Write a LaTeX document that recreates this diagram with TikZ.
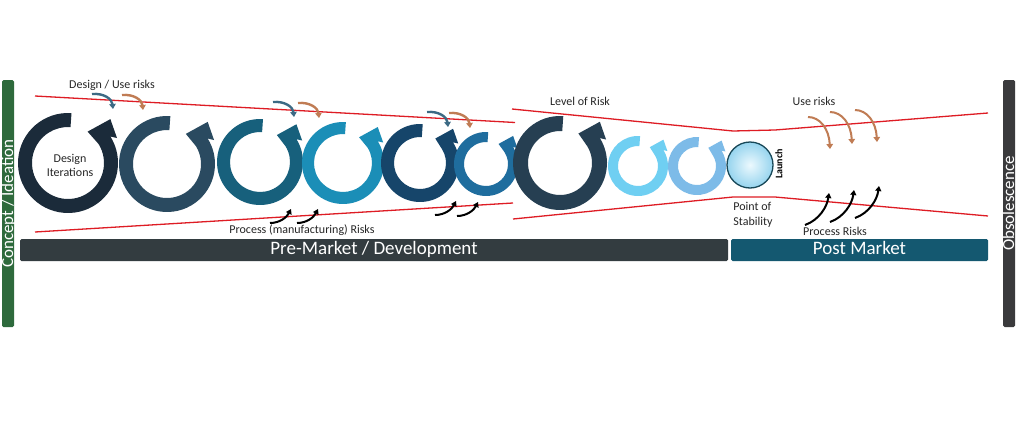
\documentclass[tikz,border=0pt]{standalone}
\usepackage{fontspec}
\setmainfont{Carlito}
\usetikzlibrary{arrows.meta,positioning}

\definecolor{ideagreen}{RGB}{46,106,60}
\definecolor{obsgrey}{RGB}{58,58,60}
\definecolor{premarket}{RGB}{51,60,64}
\definecolor{postmarket}{RGB}{20,88,112}
\definecolor{riskred}{RGB}{222,28,36}
\definecolor{designblue}{RGB}{60,106,132}
\definecolor{useorange}{RGB}{192,124,84}
\definecolor{lblgrey}{RGB}{38,38,38}
\definecolor{ringA}{RGB}{27,43,58}
\definecolor{ringB}{RGB}{42,74,96}
\definecolor{ringC}{RGB}{23,96,124}
\definecolor{ringD}{RGB}{27,142,183}
\definecolor{ringE}{RGB}{22,69,106}
\definecolor{ringF}{RGB}{31,109,158}
\definecolor{ringG}{RGB}{38,63,82}
\definecolor{ringH}{RGB}{111,207,242}
\definecolor{ringI}{RGB}{125,187,232}
\definecolor{launchin}{RGB}{236,249,254}
\definecolor{launchout}{RGB}{150,212,238}
\definecolor{launchedge}{RGB}{24,72,88}

% x, y, outer radius, thickness, colour
\newcommand{\iterring}[5]{%
  \begin{scope}[shift={(#1,-#2)}]
    \pgfmathsetmacro\ringin{#3-#4}
    \pgfmathsetmacro\ringbarb{0.74*#3}
    \pgfmathsetmacro\ringflare{1.1*#3}
    \pgfmathsetmacro\ringtip{1.22*#3}
    \fill[#5] (86:#3pt) arc[start angle=86,end angle=392,radius=#3pt]
      -- (387:\ringflare pt) -- (406:\ringtip pt) -- (418:\ringbarb pt) -- (392:\ringin pt)
      arc[start angle=392,end angle=86,radius=\ringin pt] -- cycle;
  \end{scope}}

\tikzset{
  risklbl/.style={font=\fontsize{12}{14.5}\selectfont, text=lblgrey},
  barlbl/.style={font=\fontsize{19}{21}\selectfont, text=white, inner sep=0pt,
    rounded corners=1.5pt, minimum height=22pt, text height=13pt, text depth=4pt},
  sidelbl/.style={font=\fontsize{17}{19}\selectfont, text=white, rotate=90, inner sep=0pt,
    rounded corners=1.5pt, minimum width=247pt, text height=11pt, text depth=1pt},
  riskline/.style={draw=riskred, line width=1.3pt},
  designrisk/.style={line width=2.4pt, -{Triangle[length=5pt,width=6.5pt]}},
  procrisk/.style={line width=2pt, black, -{Triangle[length=5pt,width=6pt]}}
}

\begin{document}
\begin{tikzpicture}[x=1pt,y=1pt]
\fill[white] (0,0) rectangle (1024,-434);

\node[sidelbl, fill=ideagreen] (concept) at (8,-203.5) {Concept / Ideation};
\node[sidelbl, fill=obsgrey] (obsol) at (1009,-203.5) {Obsolescence};
\node[barlbl, fill=premarket, minimum width=708pt] (premkt) at (374,-250) {Pre-Market / Development};
\node[barlbl, fill=postmarket, minimum width=257pt] (postmkt) at (859.5,-250) {Post Market};

\draw[riskline] (35,-96) -- (515,-122.5);
\draw[riskline] (35,-232) -- (513,-203);
\draw[riskline] (512,-109) -- (733,-131) -- (775,-130) -- (988,-113);
\draw[riskline] (513,-219) -- (733,-197) -- (775,-197) -- (988,-216);

\iterring{68}{163}{50}{14}{ringA}
\iterring{167}{164}{48}{14}{ringB}
\iterring{260}{162}{43}{13}{ringC}
\iterring{343}{163}{41}{12}{ringD}
\iterring{420}{163}{39}{13}{ringE}
\iterring{486}{164}{32}{10}{ringF}
\iterring{560}{163}{47}{15}{ringG}
\iterring{638}{166}{30}{10}{ringH}
\iterring{697}{166}{29}{10}{ringI}

\node[circle, draw=launchedge, line width=1.3pt, inner color=launchin, outer color=launchout,
  minimum size=46pt, inner sep=0pt] (launch) at (750,-165) {};
\node[rotate=90, font=\bfseries\fontsize{10}{11}\selectfont] (launchlbl) at (779,-164) {Launch};

\foreach \ax/\ay/\gap in {92/94/30, 273/102/25, 427/112/22} {
  \draw[designrisk, designblue, shift={(\ax,-\ay)}] (0,0) .. controls (12,1) and (20,-5) .. (21,-15);
  \draw[designrisk, useorange, shift={(\ax+\gap,-\ay-1)}] (0,0) .. controls (12,1) and (20,-5) .. (21,-15);
}
\foreach \ax/\ay in {270/223, 297/223, 435/215, 457/216}
  \draw[procrisk, shift={(\ax,-\ay)}] (0,0) .. controls (10,0) and (17,6) .. (21,14);
\foreach \ax/\ay in {808/117, 830/112, 855/110}
  \draw[designrisk, useorange, line width=2pt, shift={(\ax,-\ay)}] (0,0) .. controls (12,0) and (21,-12) .. (22,-32);
\foreach \ax/\ay in {805/225, 830/222, 855/218}
  \draw[procrisk, shift={(\ax,-\ay)}] (0,0) .. controls (14,5) and (22,18) .. (24,32);

\node[risklbl, align=center, font=\fontsize{12}{14}\selectfont] (iter) at (70,-165) {Design\\Iterations};
\node[risklbl] (designuse) at (112,-85) {Design / Use risks};
\node[risklbl] (procmfg) at (302,-230) {Process (manufacturing) Risks};
\node[risklbl] (level) at (580,-101) {Level of Risk};
\node[risklbl] (userisk) at (814,-101) {Use risks};
\node[risklbl, align=left, font=\fontsize{12}{15}\selectfont] (stability) at (753,-215) {Point of\\Stability};
\node[risklbl] (procpost) at (835,-231) {Process Risks};
\end{tikzpicture}
\end{document}
